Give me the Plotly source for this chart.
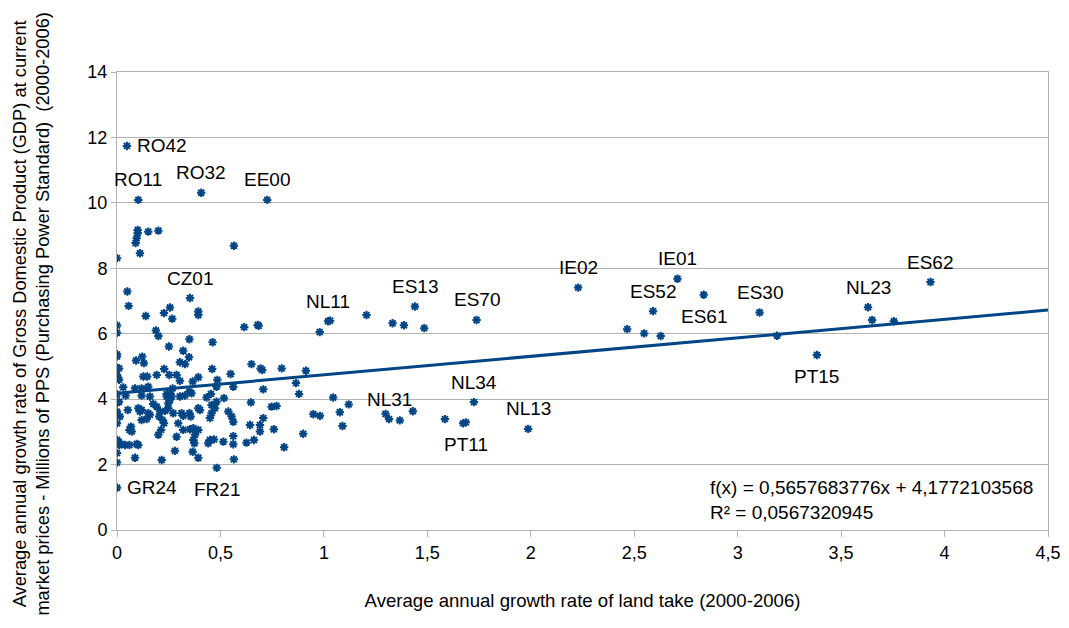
import plotly.graph_objects as go

# ---------------- data ----------------
# labelled regions (NUTS codes)
label_names = ["RO42", "RO11", "RO32", "EE00", "CZ01", "GR24", "FR21", "NL11", "ES13", "ES70",
               "NL31", "PT11", "NL34", "NL13", "IE02", "IE01", "ES52", "ES61", "ES30", "PT15",
               "NL23", "ES62"]
label_x = [0.048, 0.103, 0.407, 0.726, 0.353, 0.0, 0.482, 1.02, 1.44, 1.738,
           1.315, 1.686, 1.725, 1.987, 2.229, 2.709, 2.591, 2.836, 3.106, 3.383,
           3.63, 3.932]
label_y = [11.74, 10.09, 10.31, 10.09, 7.09, 1.29, 1.90, 6.38, 6.83, 6.42,
           3.39, 3.29, 3.91, 3.09, 7.41, 7.68, 6.69, 7.19, 6.65, 5.35,
           6.81, 7.58]
label_side = ["right", "above", "above", "above", "above", "right", "below", "above", "above", "above",
              "above", "below", "above", "above", "above", "above", "above", "below", "above", "below",
              "above", "above"]

# other (unlabelled) regions
other_x = [
    0.0, 0.10, 0.10, 0.095, 0.09, 0.111, 0.151, 0.20, 0.565,
    0.05, 0.056, 0.139, 0.227, 0.256, 0.267, 0.393, 0.393, 0.0, 0.0, 0.188, 0.20, 0.35, 0.462,
    0.615, 0.68, 0.685, 0.251, 0.32, 0.348, 0.0, 0.0, 0.122, 0.092, 0.13, 0.304, 0.329, 0.46,
    0.228, 0.0, 0.01, 0.65, 0.694, 0.702, 0.796, 0.0, 0.005, 0.01, 0.127, 0.146, 0.192, 0.253,
    0.288, 0.304, 0.393, 0.366, 0.485, 0.549, 0.562, 0.865, 0.88, 0.03, 0.087, 0.119, 0.151,
    0.269, 0.256, 0.481, 0.707, 0.35, 0.36, 0.0, 0.042, 0.119, 0.159, 0.24, 0.24, 0.304, 0.433,
    0.454, 0.517,
    0.98, 1.03, 1.206, 1.332, 1.387, 1.485, 0.913, 1.045, 1.12, 1.077, 0.949, 0.981, 1.09,
    0.90, 0.808, 1.298, 1.367, 1.43, 1.585, 1.673,
    2.466, 2.548, 2.628, 3.19, 3.65, 3.755,
    0.0, 0.01, 0.052, 0.103, 0.119, 0.111, 0.151, 0.159, 0.119, 0.143, 0.0, 0.175, 0.192, 0.208,
    0.232, 0.204, 0.22, 0.227, 0.248, 0.256, 0.264, 0.248, 0.272, 0.312, 0.32, 0.35, 0.356,
    0.296, 0.32, 0.353, 0.369, 0.393, 0.401, 0.393, 0.457, 0.473, 0.481, 0.457, 0.449, 0.538,
    0.554, 0.562, 0.643, 0.691, 0.707, 0.647, 0.747, 0.771, 0.758, 0.691, 0.068, 0.06, 0.071,
    0.213, 0.20, 0.288, 0.377, 0.369, 0.374, 0.449, 0.441, 0.469, 0.514, 0.562, 0.562, 0.626,
    0.662, 0.0, 0.008, 0.01, 0.018, 0.039, 0.06, 0.095, 0.103, 0.0, 0.28, 0.366, 0.087, 0.216,
    0.393, 0.0, 0.565, 0.0, 0.014, 0.328,
]
other_y = [
    8.31, 9.17, 9.07, 8.92, 8.77, 8.46, 9.12, 9.15, 8.69,
    7.29, 6.85, 6.54, 6.63, 6.80, 6.46, 6.68, 6.57, 6.25, 6.03, 6.10, 5.93, 5.83, 5.74,
    6.20, 6.27, 6.24, 5.61, 5.48, 5.28, 5.37, 5.30, 5.30, 5.18, 5.10, 5.13, 5.07, 4.92,
    4.92, 4.96, 4.94, 5.07, 4.94, 4.89, 4.94, 4.74, 4.64, 4.59, 4.69, 4.69, 4.74, 4.74,
    4.74, 4.56, 4.67, 4.54, 4.59, 4.77, 4.38, 4.49, 4.16, 4.36, 4.33, 4.33, 4.38,
    4.33, 4.18, 4.38, 4.30, 4.23, 4.18, 4.15, 4.11, 4.11, 4.08, 4.16, 4.08, 4.08, 4.05,
    4.16, 4.03,
    6.05, 6.40, 6.57, 6.32, 6.26, 6.17, 4.87, 4.05, 3.84, 3.60, 3.54, 3.49, 3.18,
    2.94, 2.53, 3.55, 3.35, 3.63, 3.39, 3.26,
    6.14, 6.01, 5.93, 5.94, 6.42, 6.38,
    3.89, 3.92, 3.67, 3.72, 3.67, 3.62, 3.57, 3.52, 3.36, 3.39, 3.26, 3.85, 3.77, 3.62,
    3.64, 3.47, 3.36, 3.26, 3.87, 3.98, 4.08, 3.72, 3.57, 3.57, 3.49, 3.57, 3.47,
    3.26, 3.06, 3.08, 3.11, 3.06, 3.67, 3.72, 3.82, 3.72, 3.92, 3.57, 3.42, 3.62,
    3.47, 3.31, 3.21, 3.21, 3.42, 3.90, 3.77, 3.79, 3.08, 3.01, 3.16, 3.06, 3.01,
    3.06, 2.91, 2.85, 2.91, 2.75, 2.65, 2.75, 2.65, 2.77, 2.70, 2.87, 2.62, 2.67,
    2.75, 2.75, 2.70, 2.60, 2.63, 2.60, 2.60, 2.63, 2.60, 2.35, 2.42, 2.39, 2.21, 2.14,
    2.21, 2.06, 2.16, 3.62, 3.47, 4.11,
]

# linear trend line as printed on the chart
trend_slope = 0.5657683776
trend_intercept = 4.1772103568
trend_x = [0.0, 4.5]
equation_text = "f(x) = 0,5657683776x + 4,1772103568<br>R² = 0,0567320945"

x_tick_vals = [0, 0.5, 1, 1.5, 2, 2.5, 3, 3.5, 4, 4.5]
x_tick_text = ["0", "0,5", "1", "1,5", "2", "2,5", "3", "3,5", "4", "4,5"]
y_tick_vals = [0, 2, 4, 6, 8, 10, 12, 14]

x_title = "Average annual growth rate of land take (2000-2006)"
y_title = ("Average annual growth rate of Gross Domestic Product (GDP) at current<br>"
           "market prices - Millions of PPS (Purchasing Power Standard)  (2000-2006)")

# ---------------- figure ----------------
BLUE = "#004586"
FONT = "Liberation Sans, Arial, sans-serif"

all_x = other_x + label_x
all_y = other_y + label_y

fig = go.Figure()
fig.add_trace(go.Scatter(
    x=all_x, y=all_y, mode="markers",
    marker=dict(symbol="asterisk-open", size=7, color=BLUE, line=dict(color=BLUE, width=2)),
    showlegend=False, hoverinfo="x+y",
))
trend_y = [trend_slope * v + trend_intercept for v in trend_x]
fig.add_trace(go.Scatter(
    x=trend_x, y=trend_y, mode="lines",
    line=dict(color=BLUE, width=3), showlegend=False, hoverinfo="skip",
))

annotations = []
for name, lx, ly, side in zip(label_names, label_x, label_y, label_side):
    a = dict(x=lx, y=ly, xref="x", yref="y", text=name, showarrow=False,
             font=dict(family=FONT, size=19, color="#000000"))
    if side == "above":
        a.update(yanchor="middle", xanchor="center", yshift=20)
    elif side == "below":
        a.update(yanchor="middle", xanchor="center", yshift=-22)
    else:
        a.update(yanchor="middle", xanchor="left", xshift=8)
    annotations.append(a)

annotations.append(dict(
    x=0.635, y=0.066, xref="paper", yref="paper", text=equation_text, showarrow=False,
    xanchor="left", yanchor="middle", align="left",
    font=dict(family=FONT, size=19, color="#000000"),
))

# y-axis title (two lines, rotated)
annotations.append(dict(
    x=-0.0928, y=0.4716, xref="paper", yref="paper", text=y_title, showarrow=False,
    xanchor="center", yanchor="middle", align="center", textangle=-90,
    font=dict(family=FONT, size=18.3, color="#000000"),
))

fig.update_layout(
    width=1053, height=612,
    margin=dict(l=109, r=13, t=64, b=90, autoexpand=False),
    paper_bgcolor="white", plot_bgcolor="white",
    font=dict(family=FONT, color="#000000"),
    annotations=annotations,
)
fig.update_xaxes(
    range=[0, 4.5], tickvals=x_tick_vals, ticktext=x_tick_text,
    showgrid=False, zeroline=False, automargin=False,
    showline=True, linecolor="#b3b3b3", linewidth=1, mirror=True,
    ticks="outside", ticklen=6, tickcolor="#b3b3b3",
    tickfont=dict(family=FONT, size=18),
    title=dict(text=x_title, font=dict(family=FONT, size=18.6), standoff=32),
)
fig.update_yaxes(
    range=[0, 14], tickvals=y_tick_vals,
    showgrid=True, gridcolor="#b3b3b3", gridwidth=1, zeroline=False, automargin=False,
    showline=True, linecolor="#b3b3b3", linewidth=1, mirror=True,
    ticks="outside", ticklen=5, tickcolor="#b3b3b3",
    tickfont=dict(family=FONT, size=18),
)

fig.write_html("out.html")
